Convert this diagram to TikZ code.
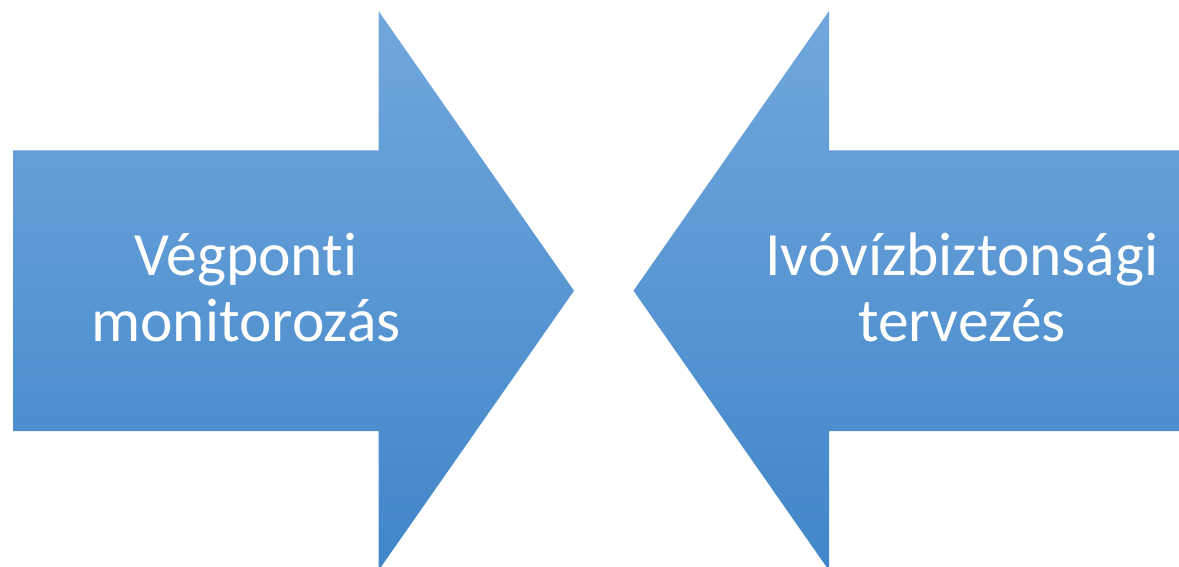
\documentclass[tikz,border=0pt]{standalone}
\usepackage{fontspec}
\setmainfont{Carlito}[Ligatures={NoCommon}]
\definecolor{arrtop}{RGB}{113,167,221}
\definecolor{arrmid}{RGB}{88,155,219}
\definecolor{arrbot}{RGB}{64,134,200}
\tikzset{
  bigarrow/.style={top color=arrtop, middle color=arrmid, bottom color=arrbot, draw=none},
  label/.style={text=white, font=\fontsize{61.5}{66}\selectfont, anchor=base, inner sep=0pt}
}
\begin{document}
\begin{tikzpicture}[x=1pt,y=-1pt]
\useasboundingbox[fill=white] (0,0) rectangle (1179,567);
\begin{scope}
\clip (0,0) rectangle (1179,567);
% left arrow
\path[bigarrow] (13,150.5) -- (378.5,150.5) -- (378.5,11) -- (574,290.75) -- (378.5,570.5) -- (378.5,431) -- (13,431) -- cycle;
% right arrow
\path[bigarrow] (1179,150.5) -- (829,150.5) -- (829,11) -- (633.5,290.75) -- (829,570.5) -- (829,431) -- (1179,431) -- cycle;
\end{scope}
\node[label] (l1) at (246,275) {Végponti};
\node[label] (l2) at (246,341) {monitorozás};
\node[label] (r1) at (962,275) {Ivóvízbiztonsági};
\node[label] (r2) at (962,341) {tervezés};
\end{tikzpicture}
\end{document}
